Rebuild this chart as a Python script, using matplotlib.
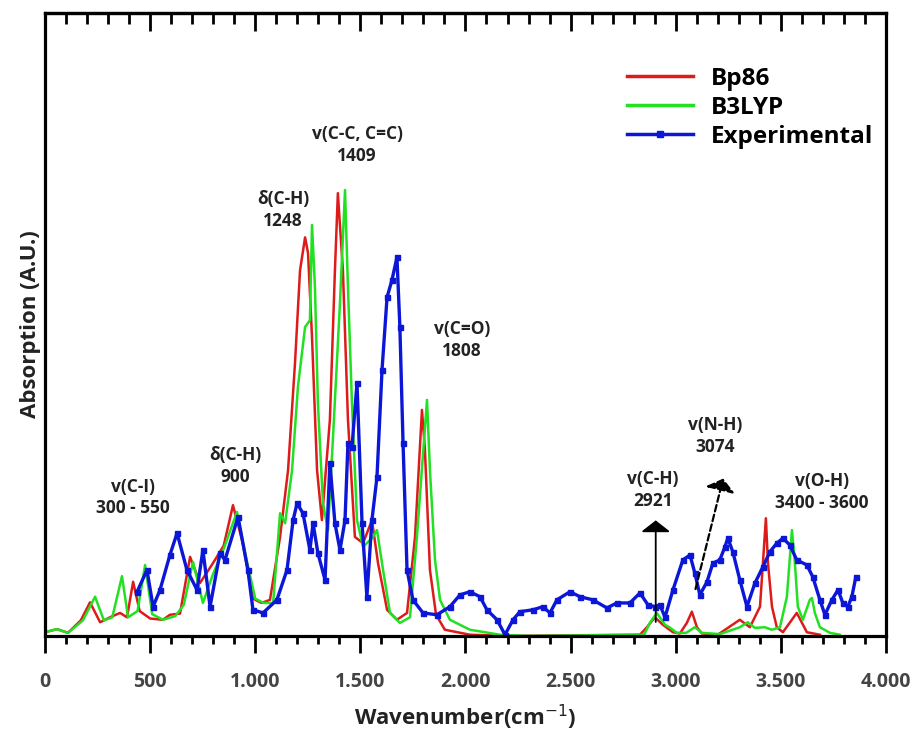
import matplotlib
matplotlib.use("Agg")
import matplotlib.pyplot as plt
from matplotlib.lines import Line2D

# Bp86 calculated spectrum (wavenumber, absorption A.U.)
bp86_x = [0, 57, 109, 170, 214, 262, 309, 357, 390, 419, 450, 500, 561, 594, 642,
          690, 737, 799, 850, 894, 940, 989, 1030, 1070, 1118, 1156, 1189, 1213, 1237,
          1251, 1270, 1294, 1317, 1355, 1379, 1393, 1417, 1441, 1474, 1513, 1555, 1584,
          1627, 1674, 1722, 1760, 1793, 1807, 1831, 1860, 1902, 2021, 2200, 2830, 2863,
          2901, 2939, 2987, 3020, 3053, 3077, 3101, 3125, 3200, 3305, 3353, 3401, 3415,
          3429, 3439, 3458, 3481, 3510, 3576, 3624, 3686]
bp86_y = [0.6, 1.1, 0.5, 2.5, 5.4, 2.2, 3.0, 3.7, 3.0, 8.7, 4.0, 2.8, 2.6, 3.4, 3.6,
          12.7, 8.5, 11.7, 14.5, 21.0, 15.0, 6.0, 5.3, 5.8, 15.9, 26.6, 43.8, 58.7, 64.0,
          61.5, 48.0, 26.6, 18.6, 34.7, 58.7, 71.1, 58.7, 34.7, 15.9, 14.9, 18.6, 11.7,
          4.2, 2.6, 3.7, 15.9, 36.3, 30.0, 10.6, 3.4, 1.0, 0.2, 0.0, 0.2, 1.4,
          3.0, 1.8, 0.6, 0.4, 2.1, 3.9, 1.4, 0.4, 0.2, 2.6, 1.4, 4.7, 11.7,
          18.9, 11.7, 4.7, 1.4, 0.6, 3.7, 0.6, 0.2]

# B3LYP calculated spectrum
b3lyp_x = [0, 57, 109, 180, 238, 280, 320, 366, 395, 440, 476, 510, 561, 620, 660,
           704, 751, 800, 850, 913, 960, 1000, 1040, 1085, 1118, 1142, 1175, 1203, 1237,
           1260, 1270, 1284, 1298, 1322, 1346, 1370, 1403, 1427, 1441, 1460, 1484, 1513,
           1560, 1579, 1608, 1641, 1688, 1736, 1769, 1817, 1831, 1855, 1879, 1926, 2021,
           2164, 2300, 2850, 2877, 2910, 2949, 2970, 3006, 3050, 3091, 3125, 3210, 3305,
           3343, 3377, 3424, 3458, 3496, 3529, 3553, 3567, 3581, 3605, 3638, 3648, 3662,
           3686, 3734, 3781]
b3lyp_y = [0.6, 1.1, 0.5, 2.5, 6.3, 2.5, 3.0, 9.6, 3.0, 4.0, 11.4, 3.5, 2.6, 3.2, 5.0,
           11.9, 5.3, 10.0, 14.0, 19.9, 12.0, 6.0, 5.3, 5.3, 19.7, 18.1, 26.6, 40.0, 49.6,
           50.7, 66.0, 56.0, 37.4, 21.3, 17.0, 32.0, 53.5, 71.6, 56.0, 37.4, 18.6, 14.3,
           15.9, 17.0, 10.6, 3.7, 2.1, 3.0, 15.9, 37.9, 26.6, 12.2, 5.8, 2.6, 1.0,
           0.2, 0.0, 0.2, 2.1, 3.7, 1.8, 1.4, 0.5, 0.5, 1.4, 0.5, 0.3, 1.4,
           2.2, 1.3, 1.4, 1.0, 1.4, 6.3, 17.0, 11.7, 4.7, 2.6, 5.8, 6.1, 3.7,
           1.4, 0.5, 0.2]

# Experimental spectrum
exp_x = [438, 485, 514, 547, 594, 628, 675, 723, 751, 785, 832, 856, 918, 965, 989,
         1037, 1103, 1151, 1180, 1199, 1227, 1260, 1275, 1298, 1332, 1355, 1379, 1403,
         1427, 1441, 1460, 1484, 1508, 1531, 1555, 1579, 1603, 1627, 1650, 1674, 1688,
         1703, 1722, 1750, 1798, 1864, 1926, 1974, 2021, 2069, 2102, 2150, 2188, 2226,
         2259, 2321, 2368, 2402, 2435, 2497, 2545, 2606, 2673, 2720, 2782, 2830, 2868,
         2901, 2925, 2949, 2987, 3034, 3068, 3091, 3115, 3149, 3177, 3210, 3234, 3248,
         3272, 3305, 3339, 3377, 3415, 3448, 3481, 3510, 3543, 3576, 3624, 3652, 3686,
         3710, 3743, 3772, 3795, 3819, 3838, 3857]
exp_y = [7.1, 10.6, 4.7, 7.4, 13.0, 16.5, 10.6, 7.4, 13.8, 4.7, 13.3, 12.2, 19.1, 10.6, 4.2,
         3.7, 5.8, 10.6, 18.6, 21.3, 19.7, 13.8, 18.1, 13.3, 9.0, 27.8, 18.1, 13.8,
         18.6, 31.0, 30.3, 40.6, 18.1, 6.3, 18.6, 25.5, 42.7, 54.4, 57.1, 60.8, 49.6,
         31.0, 10.6, 5.8, 3.7, 3.4, 4.7, 6.6, 7.1, 6.3, 4.2, 2.6, 0.2, 2.6,
         3.9, 4.2, 4.7, 3.7, 5.8, 7.1, 6.3, 5.8, 4.5, 5.3, 5.3, 6.9, 5.0,
         4.7, 5.0, 3.0, 7.4, 12.2, 13.0, 10.1, 6.6, 8.7, 11.7, 12.2, 14.3, 15.7,
         13.5, 9.0, 4.7, 8.5, 11.1, 13.5, 14.9, 15.7, 14.6, 12.2, 11.4, 9.5, 5.8,
         3.4, 5.8, 7.4, 5.3, 4.7, 6.3, 9.5]

# band assignments: (text, x, y)
labels = [("v(C-I)\n300 - 550", 419, 22.2),
          ("δ(C-H)\n900", 904, 27.3),
          ("δ(C-H)\n1248", 1132, 68.4),
          ("v(C-C, C=C)\n1409", 1484, 78.8),
          ("v(C=O)\n1808", 1983, 47.5),
          ("v(C-H)\n2921", 2892, 23.4),
          ("v(N-H)\n3074", 3187, 32.1),
          ("v(O-H)\n3400 - 3600", 3695, 23.1)]

red = "#dd1b1b"
green = "#22e022"
blue = "#0b16d6"
font = ["Open Sans", "DejaVu Sans"]

fig = plt.figure(figsize=(9.21, 7.31), dpi=100)
ax = fig.add_axes([0.0489, 0.130, 0.913, 0.852])

ax.plot(bp86_x, bp86_y, color=red, lw=1.8)
ax.plot(b3lyp_x, b3lyp_y, color=green, lw=1.8)
ax.plot(exp_x, exp_y, color=blue, lw=2.4, marker="s", ms=3.6)

ax.set_xlim(0, 4000)
ax.set_ylim(0, 100)
ax.set_yticks([])
ax.set_xticks(range(0, 4001, 500))
ax.set_xticks(range(0, 4001, 100), minor=True)
ax.set_xticklabels([f"{v:,}".replace(",", ".") for v in range(0, 4001, 500)],
                   family=font, fontweight="bold", fontsize=14, color="#444444")
ax.tick_params(axis="x", which="major", direction="out", length=12, width=2, pad=14)
ax.tick_params(axis="x", which="minor", direction="out", length=6, width=2)

top = ax.secondary_xaxis("top")
top.set_xticks(range(0, 4001, 500))
top.set_xticks(range(0, 4001, 100), minor=True)
top.tick_params(axis="x", which="major", direction="in", length=13, width=2, labeltop=False)
top.tick_params(axis="x", which="minor", direction="in", length=8, width=2)
top.spines["top"].set_linewidth(2.3)

for s in ax.spines.values():
    s.set_linewidth(2.3)

ax.set_xlabel("Wavenumber(cm$^{-1}$)", family=font, fontweight="bold",
              fontsize=16, color="#222222", labelpad=8)
ax.set_ylabel("Absorption (A.U.)", family=font, fontweight="bold",
              fontsize=16, color="#222222", labelpad=3)

for txt, x, y in labels:
    ax.text(x, y, txt, ha="center", va="center", family=font, fontweight="bold",
            fontsize=12.5, color="#222222", linespacing=1.25)

ax.annotate("", xy=(2905, 19.0), xytext=(2905, 1.8),
            arrowprops=dict(arrowstyle="-|>,head_length=0.35,head_width=0.45",
                            color="black", lw=1.3, mutation_scale=20))
ax.annotate("", xy=(3229, 25.7), xytext=(3091, 7.1),
            arrowprops=dict(arrowstyle="-|>,head_length=0.35,head_width=0.45",
                            color="black", lw=1.6, ls=(0, (3, 1.5)), mutation_scale=20))

handles = [Line2D([], [], color=red, lw=2.5),
           Line2D([], [], color=green, lw=2.5),
           Line2D([], [], color=blue, lw=2.5, marker="s", ms=4)]
ax.legend(handles, ["Bp86", "B3LYP", "Experimental"], loc="upper left",
          bbox_to_anchor=(627 / 921, 1 - 67 / 731), bbox_transform=fig.transFigure,
          frameon=False, borderpad=0, borderaxespad=0, handlelength=2.7,
          handletextpad=0.75, labelspacing=0.2, numpoints=1,
          prop=dict(family=font, weight="bold", size=17.5))

fig.savefig("out.png", dpi=100)
